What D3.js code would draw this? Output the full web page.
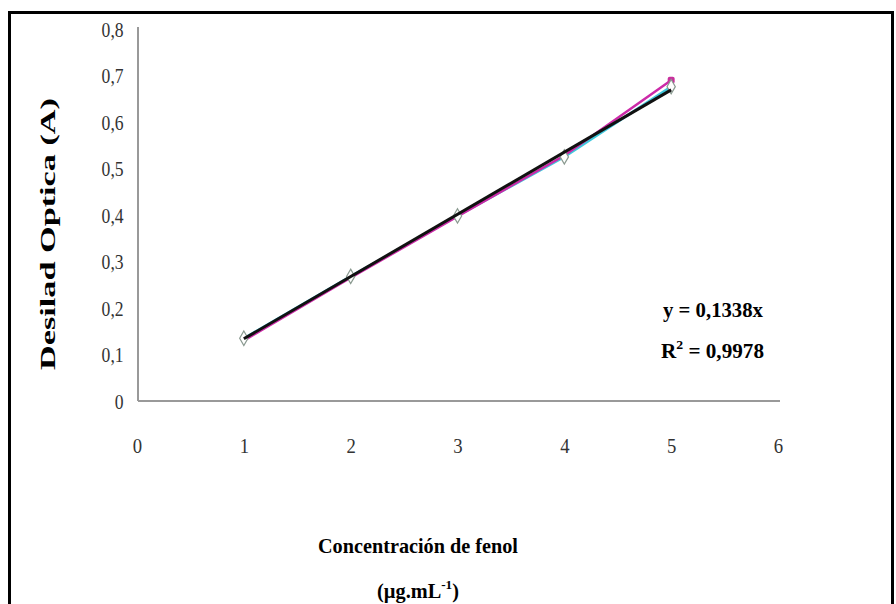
<!DOCTYPE html>
<html>
  <head>
    <meta charset="utf-8">
    <style>
    body {margin:0; background:white;}
    svg {display:block; background:white;}
    text {font-family: "Liberation Serif", "DejaVu Serif", serif;}
    .tick text {fill:#333; font-size:22px;}
    </style>
  </head>
  <body>
    <div id="chart"></div>
    <script src="https://d3js.org/d3.v7.min.js"></script>
<script>

  // data: concentration (ug/mL) vs optical density
  var conc = [1, 2, 3, 4, 5];
  var absorbA = [0.135, 0.268, 0.398, 0.525, 0.676];   // cyan series, diamonds
  var absorbB = [0.130, 0.265, 0.397, 0.528, 0.690];   // magenta series
  var slope = 0.1338;
  var r2 = 0.9978;
  var xTicks = [0, 1, 2, 3, 4, 5, 6];
  var yTicks = [0, 0.1, 0.2, 0.3, 0.4, 0.5, 0.6, 0.7, 0.8];

  var width = 896, height = 604;

  var svg = d3.select("#chart")
    .append("svg")
    .attr("width", width)
    .attr("height", height);

  // outer frame
  svg.append("rect")
    .attr("x", 9.5)
    .attr("y", 12.5)
    .attr("width", 883)
    .attr("height", 620)
    .attr("fill", "none")
    .attr("stroke", "#000")
    .attr("stroke-width", 3);

  var xscale = d3.scaleLinear().domain([0, 6]).range([137, 778]);
  var yscale = d3.scaleLinear().domain([0, 0.8]).range([401, 29]);

  var comma = function(d) { return String(d).replace(".", ","); };

  // y axis
  var yaxis = svg.append("g")
    .attr("transform", "translate(138,0)")
    .call(d3.axisLeft(yscale).tickValues(yTicks).tickSize(0).tickPadding(18).tickFormat(comma));
  yaxis.select(".domain")
    .attr("d", "M0," + (yscale(0.8) - 2) + "V" + yscale(0))
    .attr("stroke", "#999").attr("stroke-width", 2);
  yaxis.selectAll(".tick text").attr("transform", "scale(0.8,1)");

  // x axis
  var xaxis = svg.append("g")
    .attr("transform", "translate(0," + yscale(0) + ")")
    .call(d3.axisBottom(xscale).tickValues(xTicks).tickSize(0).tickPadding(36).tickFormat(d3.format("d")));
  xaxis.select(".domain")
    .attr("d", "M138,0H780")
    .attr("stroke", "#999").attr("stroke-width", 2);
  xaxis.selectAll(".tick text").attr("transform", "scale(0.85,1)");

  var ptsA = conc.map(function(c, i) { return [c, absorbA[i]]; });
  var ptsB = conc.map(function(c, i) { return [c, absorbB[i]]; });

  var line = d3.line()
    .x(function(d) { return xscale(d[0]); })
    .y(function(d) { return yscale(d[1]); });

  svg.append("path")
    .datum(ptsA)
    .attr("d", line)
    .attr("fill", "none")
    .attr("stroke", "#40c8dc")
    .attr("stroke-width", 2.5);

  svg.append("path")
    .datum(ptsB)
    .attr("d", line)
    .attr("fill", "none")
    .attr("stroke", "#cc2aa8")
    .attr("stroke-width", 2.5);

  // magenta marker at last point
  svg.append("g")
    .selectAll("rect")
    .data(ptsB.slice(4))
    .enter().append("rect")
    .attr("x", function(d) { return xscale(d[0]) - 3.5; })
    .attr("y", function(d) { return yscale(d[1]) - 3.5; })
    .attr("width", 7)
    .attr("height", 7)
    .attr("rx", 2)
    .attr("fill", "#c8309c");

  // diamonds
  svg.append("g")
    .selectAll("path")
    .data(ptsA)
    .enter().append("path")
    .attr("d", d3.symbol().type(d3.symbolDiamond).size(60))
    .attr("transform", function(d) { return "translate(" + xscale(d[0]) + "," + yscale(d[1]) + ")"; })
    .attr("fill", "white")
    .attr("stroke", "#8a9a90")
    .attr("stroke-width", 1.2);

  // trend line y = slope * x
  svg.append("path")
    .datum([[conc[0], slope * conc[0]], [conc[4], slope * conc[4]]])
    .attr("d", line)
    .attr("fill", "none")
    .attr("stroke", "#111")
    .attr("stroke-width", 3);

  // equation
  svg.append("text")
    .attr("x", 663)
    .attr("y", 317)
    .style("font-size", "20px")
    .style("font-weight", "bold")
    .attr("textLength", 100)
    .attr("lengthAdjust", "spacingAndGlyphs")
    .text("y = " + comma(slope) + "x");

  var rt = svg.append("text")
    .attr("x", 661)
    .attr("y", 358)
    .style("font-size", "20px")
    .style("font-weight", "bold")
    .attr("textLength", 103)
    .attr("lengthAdjust", "spacingAndGlyphs");
  rt.append("tspan").text("R");
  rt.append("tspan").attr("dy", -9).style("font-size", "13px").text("2");
  rt.append("tspan").attr("dy", 9).text(" = " + comma(r2));

  // axis titles
  svg.append("text")
    .attr("transform", "translate(55,234) rotate(-90)")
    .attr("text-anchor", "middle")
    .style("font-size", "21px")
    .style("font-weight", "bold")
    .attr("textLength", 272)
    .attr("lengthAdjust", "spacingAndGlyphs")
    .text("Desilad Optica  (A)");

  svg.append("text")
    .attr("x", 418)
    .attr("y", 553)
    .attr("text-anchor", "middle")
    .style("font-size", "21px")
    .style("font-weight", "bold")
    .attr("textLength", 200)
    .attr("lengthAdjust", "spacingAndGlyphs")
    .text("Concentración de fenol");

  var ut = svg.append("text")
    .attr("x", 418)
    .attr("y", 598)
    .attr("text-anchor", "middle")
    .style("font-size", "20px")
    .style("font-weight", "bold")
    .attr("textLength", 82)
    .attr("lengthAdjust", "spacingAndGlyphs");
  ut.append("tspan").text("(µg.mL");
  ut.append("tspan").attr("dy", -9).style("font-size", "13px").text("-1");
  ut.append("tspan").attr("dy", 9).text(")");

</script>
  </body>
</html>
